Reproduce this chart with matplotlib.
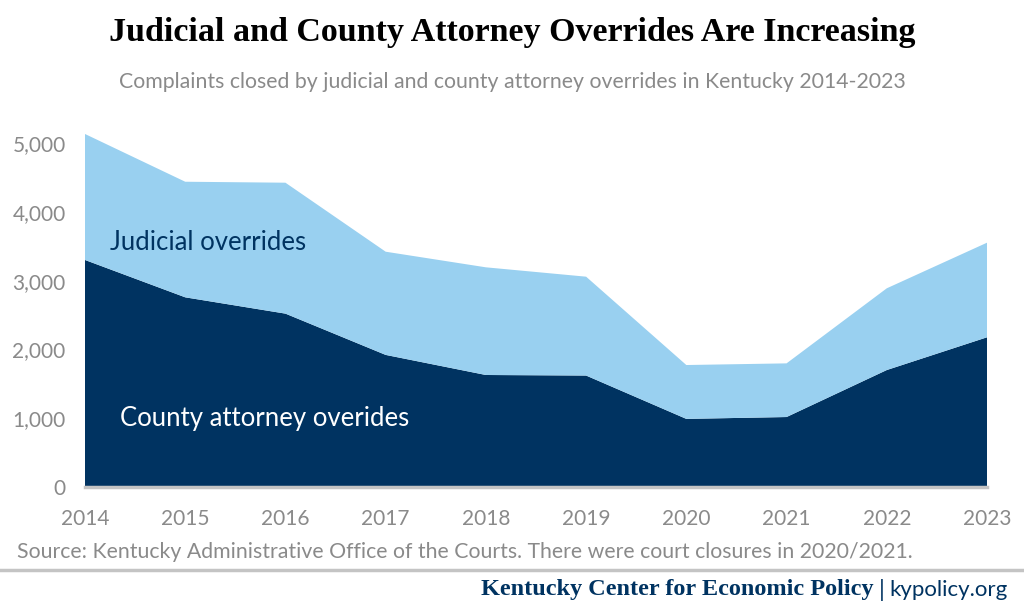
import numpy as np
import matplotlib
matplotlib.use("Agg")
import matplotlib.pyplot as plt
from matplotlib.ticker import FuncFormatter

years = [2014, 2015, 2016, 2017, 2018, 2019, 2020, 2021, 2022, 2023]
county = [3300, 2757, 2520, 1920, 1628, 1620, 990, 1017, 1700, 2176]
judicial_total = [5131, 4437, 4423, 3420, 3193, 3057, 1773, 1797, 2888, 3551]
judicial = [t - c for t, c in zip(judicial_total, county)]
y_ticks = [0, 1000, 2000, 3000, 4000, 5000]

navy = "#003361"
light_blue = "#99d0f0"
grey_text = "#8a8a8a"

plt.rcParams["font.family"] = ["Lato", "DejaVu Sans"]

fig = plt.figure(figsize=(10.24, 6.08), dpi=100)
ax = fig.add_axes([85 / 1024, 1 - 487 / 608, 902 / 1024, 378.4 / 608])

ax.stackplot(years, county, judicial, colors=[navy, light_blue], linewidth=0)
ax.set_xlim(years[0], years[-1])
ax.set_ylim(0, 5500)

ax.set_xticks(years)
ax.set_yticks(y_ticks)
ax.yaxis.set_major_formatter(FuncFormatter(lambda v, p: f"{int(v):,}"))
ax.tick_params(axis="both", length=0, labelsize=15, labelcolor=grey_text)
ax.tick_params(axis="x", pad=16)
ax.tick_params(axis="y", pad=14)

for s in ["top", "right", "left"]:
    ax.spines[s].set_visible(False)
ax.spines["bottom"].set_color("#c4c4c4")
ax.spines["bottom"].set_linewidth(2.5)

ax.text(2014.25, 3560, "Judicial overrides", color=navy, fontsize=18.5, va="center")
ax.text(2014.35, 990, "County attorney overides", color="white", fontsize=18.5, va="center")

fig.text(0.5, 1 - 32 / 608, "Judicial and County Attorney Overrides Are Increasing",
         ha="center", va="center", fontsize=24.5, fontweight="bold",
         family="Liberation Serif", color="black")
fig.text(0.5, 1 - 82 / 608, "Complaints closed by judicial and county attorney overrides in Kentucky 2014-2023",
         ha="center", va="center", fontsize=15.3, color=grey_text)
fig.text(17 / 1024, 1 - 552 / 608,
         "Source: Kentucky Administrative Office of the Courts. There were court closures in 2020/2021.",
         ha="left", va="center", fontsize=15.3, color=grey_text)

fig.add_artist(plt.Line2D([0, 1], [1 - 570 / 608, 1 - 570 / 608], color="#c4c4c4", linewidth=2.5))

# footer, built right to left
renderer = fig.canvas.get_renderer()
t1 = fig.text(1008 / 1024, 1 - 590 / 608, "kypolicy.org", ha="right", va="center",
              fontsize=16, color=navy)
x_left = t1.get_window_extent(renderer).x0
t2 = fig.text((x_left - 5) / 1024, 1 - 590 / 608, "|", ha="right", va="center",
              fontsize=17, color=navy)
x_left = t2.get_window_extent(renderer).x0
fig.text((x_left - 5) / 1024, 1 - 590 / 608, "Kentucky Center for Economic Policy", ha="right",
         va="center", fontsize=17.5, fontweight="bold", family="Liberation Serif", color=navy)

fig.savefig("out.png", dpi=100)
